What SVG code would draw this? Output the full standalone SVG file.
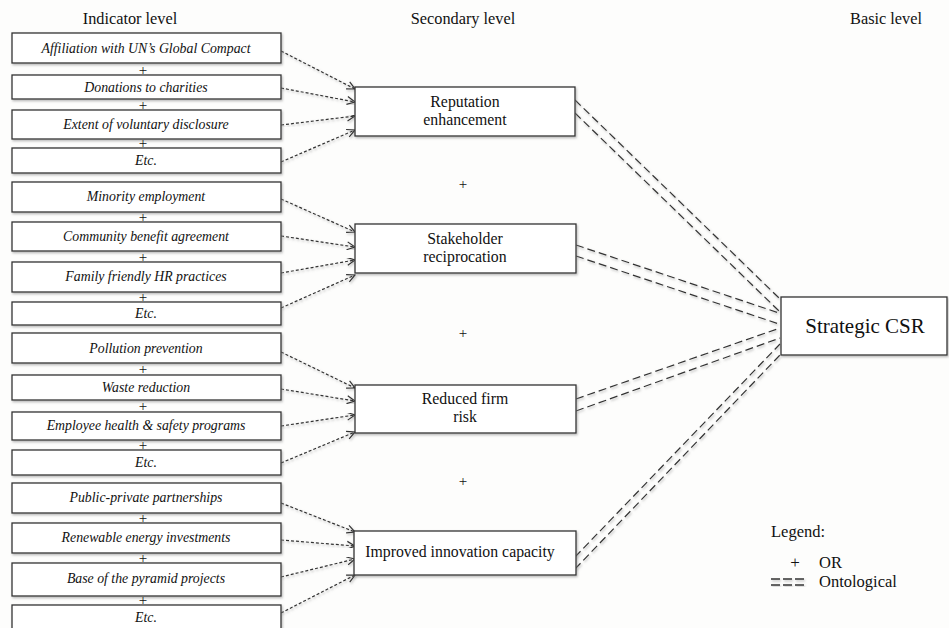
<svg xmlns="http://www.w3.org/2000/svg" width="949" height="628" viewBox="0 0 949 628">
<style>
.bx{fill:#fff;stroke:#333;stroke-width:1.3;filter:url(#sh)}
.it{font-family:"Liberation Serif",serif;font-style:italic;font-size:13.8px;fill:#111;text-anchor:middle}
.tx{font-family:"Liberation Serif",serif;font-size:15.8px;fill:#111;text-anchor:middle}
.hd{font-family:"Liberation Serif",serif;font-size:16.3px;fill:#111;text-anchor:middle}
.pl{font-family:"Liberation Serif",serif;font-size:15px;fill:#111;text-anchor:middle}
.ar{fill:none;stroke:#333;stroke-width:1.2;stroke-dasharray:3 2;marker-end:url(#ah);filter:url(#sh)}
.on{fill:none;stroke:#333;stroke-width:1.2;stroke-dasharray:8 4;filter:url(#sh)}
</style>
<defs>
<filter id="sh" x="-10%" y="-10%" width="120%" height="130%">
<feDropShadow dx="1" dy="1.5" stdDeviation="1" flood-color="#888" flood-opacity="0.6"/>
</filter>
<marker id="ah" markerWidth="10" markerHeight="10" refX="9" refY="5" orient="auto" markerUnits="userSpaceOnUse">
<path d="M1,1 L9,5 L1,9" fill="none" stroke="#333" stroke-width="1.2"/>
</marker>
</defs>
<rect width="949" height="628" fill="#fdfdfc"/>

<text class="hd" x="130" y="24">Indicator level</text>
<text class="hd" x="463" y="24">Secondary level</text>
<text class="hd" x="886" y="24">Basic level</text>

<g id="connectors">
<path class="ar" d="M281,51 L355,89"/>
<path class="ar" d="M281,88 L355,102"/>
<path class="ar" d="M281,125 L355,116"/>
<path class="ar" d="M281,162 L355,130"/>
<path class="ar" d="M281,199 L355,232"/>
<path class="ar" d="M281,236 L355,247"/>
<path class="ar" d="M281,273 L355,260"/>
<path class="ar" d="M281,308 L355,275"/>
<path class="ar" d="M281,352 L355,388"/>
<path class="ar" d="M281,389 L355,401"/>
<path class="ar" d="M281,426 L355,415"/>
<path class="ar" d="M281,463 L355,432"/>
<path class="ar" d="M281,503 L355,532"/>
<path class="ar" d="M281,540 L355,546"/>
<path class="ar" d="M281,577 L355,559"/>
<path class="ar" d="M281,613 L355,575"/>
<path class="on" d="M575,100 L779,298"/>
<path class="on" d="M575,113 L779,311"/>
<path class="on" d="M576,245 L779,313"/>
<path class="on" d="M576,256 L779,324"/>
<path class="on" d="M576,399 L780,328"/>
<path class="on" d="M576,411 L780,338"/>
<path class="on" d="M575,557 L780,344"/>
<path class="on" d="M575,569 L780,355"/>
</g>

<g id="ind1"><rect class="bx" x="12" y="33" width="269" height="30"/><text class="it" x="146" y="53">Affiliation with UN’s Global Compact</text></g>
<text class="pl" x="143" y="75">+</text>
<g id="ind2"><rect class="bx" x="12" y="75" width="269" height="24"/><text class="it" x="146" y="92">Donations to charities</text></g>
<text class="pl" x="143" y="110">+</text>
<g id="ind3"><rect class="bx" x="12" y="110" width="269" height="29"/><text class="it" x="146" y="129">Extent of voluntary disclosure</text></g>
<text class="pl" x="143" y="148">+</text>
<g id="ind4"><rect class="bx" x="12" y="148" width="269" height="25"/><text class="it" x="146" y="165">Etc.</text></g>

<g id="ind5"><rect class="bx" x="12" y="182" width="269" height="30"/><text class="it" x="146" y="201">Minority employment</text></g>
<text class="pl" x="143" y="222">+</text>
<g id="ind6"><rect class="bx" x="12" y="222" width="269" height="29"/><text class="it" x="146" y="241">Community benefit agreement</text></g>
<text class="pl" x="143" y="262">+</text>
<g id="ind7"><rect class="bx" x="12" y="262" width="269" height="30"/><text class="it" x="146" y="281">Family friendly HR practices</text></g>
<text class="pl" x="143" y="302">+</text>
<g id="ind8"><rect class="bx" x="12" y="302" width="269" height="23"/><text class="it" x="146" y="318">Etc.</text></g>

<g id="ind9"><rect class="bx" x="12" y="333" width="269" height="30"/><text class="it" x="146" y="353">Pollution prevention</text></g>
<text class="pl" x="143" y="374">+</text>
<g id="ind10"><rect class="bx" x="12" y="375" width="269" height="25"/><text class="it" x="146" y="392">Waste reduction</text></g>
<text class="pl" x="143" y="411">+</text>
<g id="ind11"><rect class="bx" x="12" y="412" width="269" height="28"/><text class="it" x="146" y="430">Employee health &amp; safety programs</text></g>
<text class="pl" x="143" y="450">+</text>
<g id="ind12"><rect class="bx" x="12" y="450" width="269" height="25"/><text class="it" x="146" y="467">Etc.</text></g>

<g id="ind13"><rect class="bx" x="12" y="483" width="269" height="30"/><text class="it" x="146" y="502">Public-private partnerships</text></g>
<text class="pl" x="143" y="523">+</text>
<g id="ind14"><rect class="bx" x="12" y="523" width="269" height="30"/><text class="it" x="146" y="542">Renewable energy investments</text></g>
<text class="pl" x="143" y="563">+</text>
<g id="ind15"><rect class="bx" x="12" y="563" width="269" height="33"/><text class="it" x="146" y="583">Base of the pyramid projects</text></g>
<text class="pl" x="143" y="605">+</text>
<g id="ind16"><rect class="bx" x="12" y="605" width="269" height="30"/><text class="it" x="146" y="622">Etc.</text></g>

<g id="sec1"><rect class="bx" x="355" y="87" width="220" height="49"/><text class="tx" x="465" y="107">Reputation</text><text class="tx" x="465" y="125">enhancement</text></g>
<text class="pl" x="463" y="189">+</text>
<g id="sec2"><rect class="bx" x="355" y="224" width="221" height="49"/><text class="tx" x="465" y="244">Stakeholder</text><text class="tx" x="465" y="262">reciprocation</text></g>
<text class="pl" x="463" y="338">+</text>
<g id="sec3"><rect class="bx" x="355" y="385" width="221" height="48"/><text class="tx" x="465" y="404">Reduced firm</text><text class="tx" x="465" y="422">risk</text></g>
<text class="pl" x="463" y="486">+</text>
<g id="sec4"><rect class="bx" x="354" y="531" width="222" height="44"/><text class="tx" x="460" y="557">Improved innovation capacity</text></g>

<g id="basic"><rect class="bx" x="781" y="297" width="166" height="58"/><text class="tx" style="font-size:21px" x="865" y="333">Strategic CSR</text></g>

<g id="legend">
<text class="tx" x="771" y="537" style="text-anchor:start;font-size:16.5px">Legend:</text>
<text class="tx" x="795" y="568" style="font-size:17px">+</text>
<text class="tx" x="819" y="568" style="text-anchor:start;font-size:16.5px">OR</text>
<path d="M771,579 L805,579 M771,585 L805,585" stroke="#333" stroke-width="1.3" stroke-dasharray="9 3" filter="url(#sh)"/>
<text class="tx" x="819" y="587" style="text-anchor:start;font-size:16.5px">Ontological</text>
</g>
</svg>
